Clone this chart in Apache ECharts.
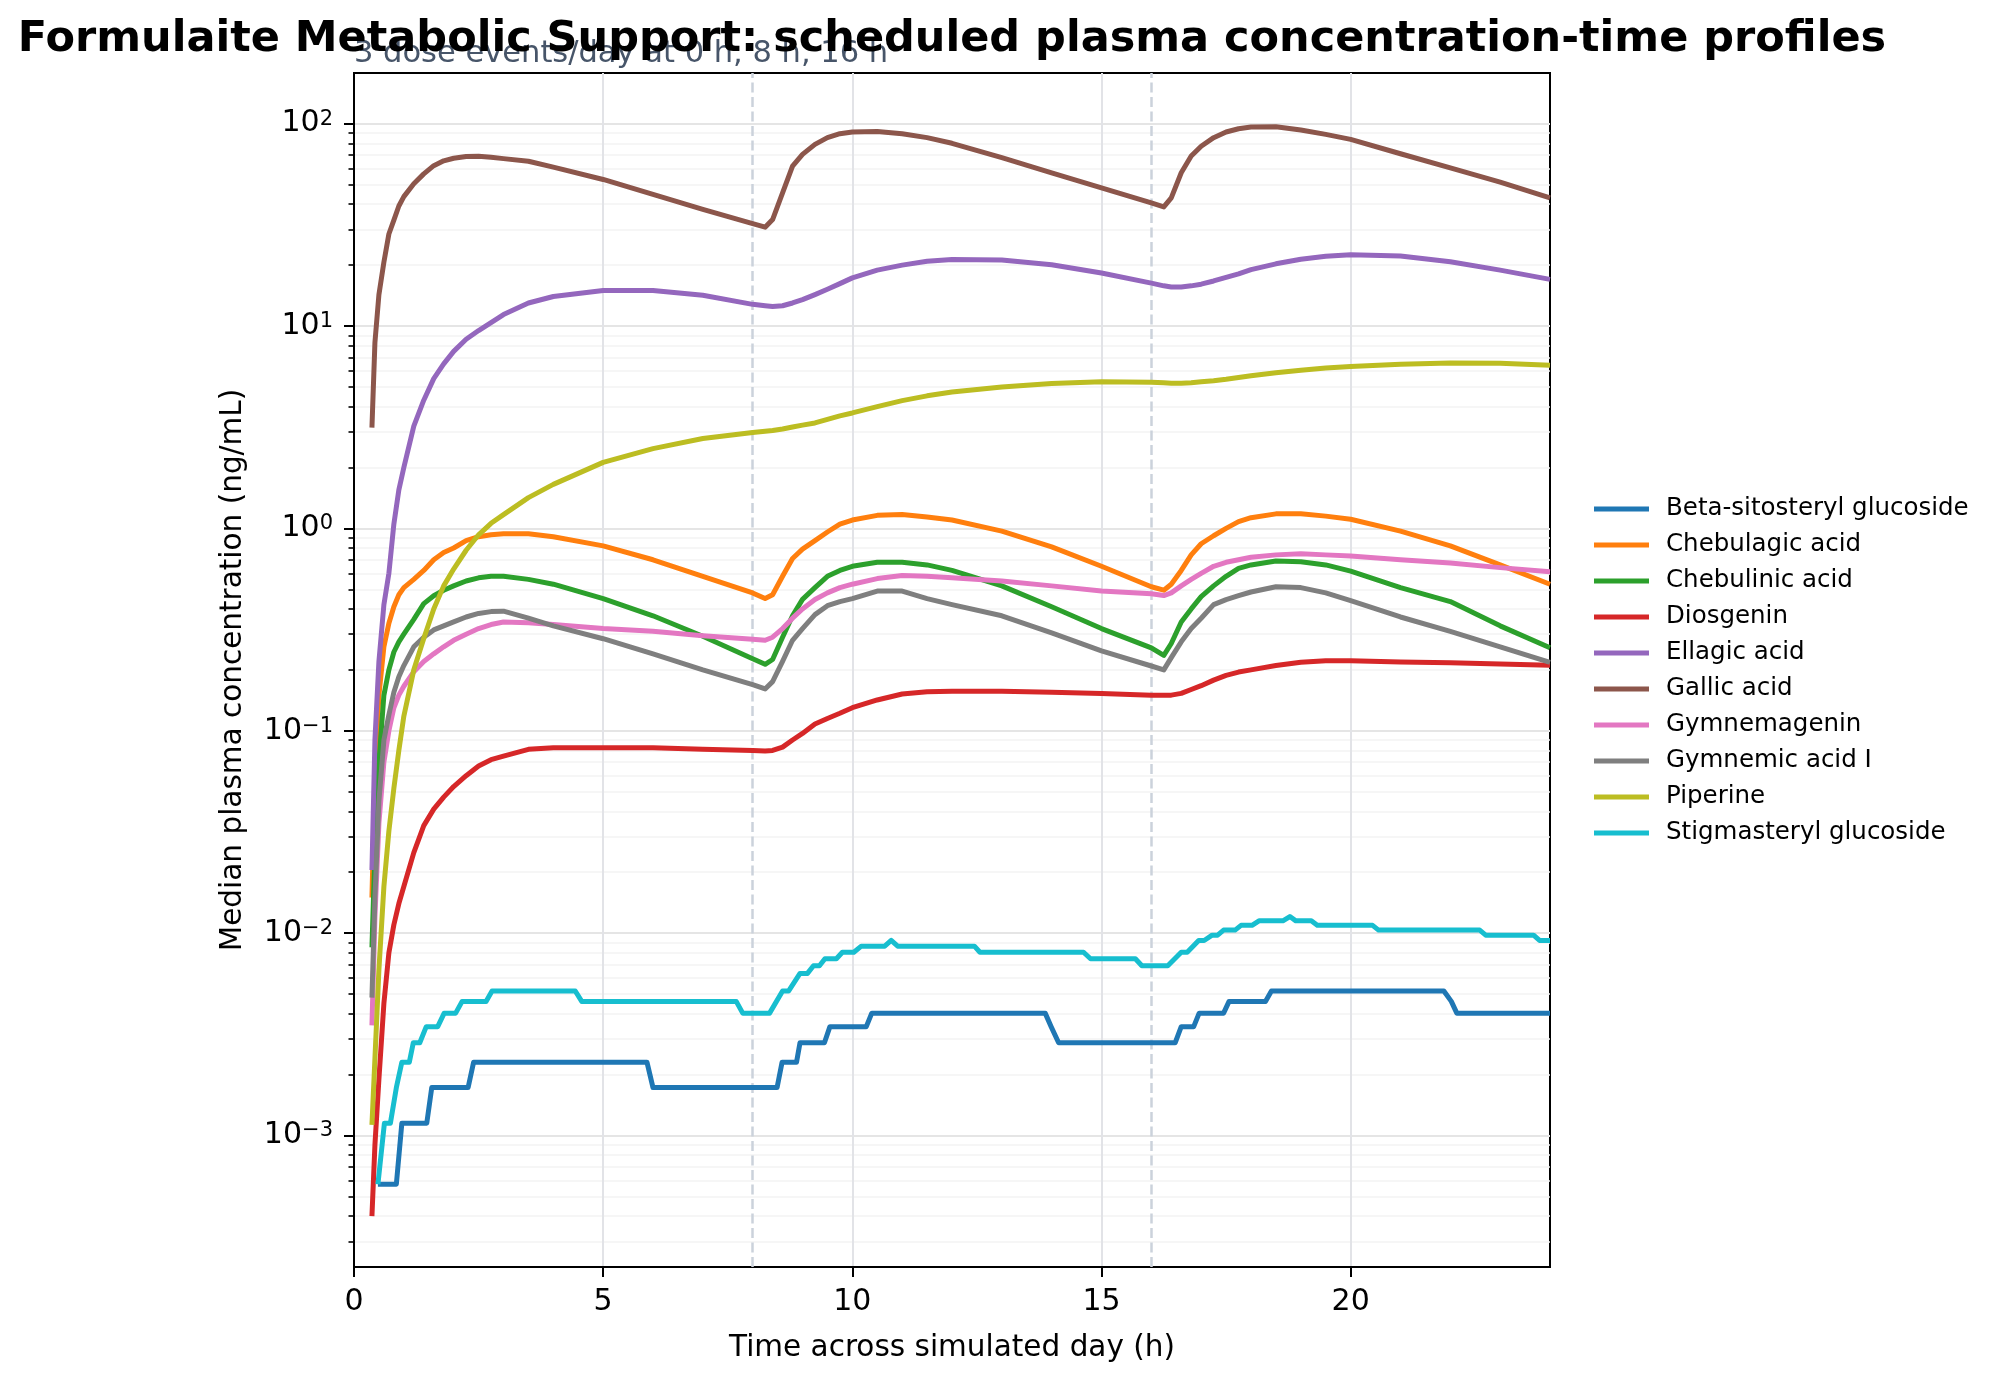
<!DOCTYPE html>
<html>
<head>
<meta charset="utf-8">
<title>Formulaite Metabolic Support</title>
<script src="https://cdn.jsdelivr.net/npm/echarts@6/dist/echarts.min.js"></script>
<style>
  html, body { margin: 0; padding: 0; background: #fff; }
  #chart { width: 1999px; height: 1382px; }
</style>
</head>
<body>
<div id="chart"></div>
<script>
const FONT = '"DejaVu Sans", sans-serif';

// shared sampling times (h) for the smooth profiles
const hours = [0.36, 0.42, 0.5, 0.6, 0.7, 0.8, 0.9, 1.0, 1.2, 1.4, 1.6, 1.8, 2.0, 2.25, 2.5, 2.75, 3.0, 3.5, 4.0, 5.0, 6.0, 7.0, 8.0, 8.25, 8.4, 8.6, 8.8, 9.0, 9.25, 9.5, 9.75, 10.0, 10.5, 11.0, 11.5, 12.0, 13.0, 14.0, 15.0, 16.0, 16.25, 16.4, 16.6, 16.8, 17.0, 17.25, 17.5, 17.75, 18.0, 18.5, 19.0, 19.5, 20.0, 21.0, 22.0, 23.0, 24.0];

const chebulagicAcid = [0.015, 0.06, 0.15, 0.26, 0.34, 0.41, 0.47, 0.51, 0.56, 0.62, 0.70, 0.76, 0.80, 0.87, 0.91, 0.93, 0.94, 0.94, 0.91, 0.82, 0.70, 0.58, 0.48, 0.45, 0.47, 0.58, 0.71, 0.79, 0.87, 0.96, 1.05, 1.10, 1.16, 1.17, 1.14, 1.10, 0.97, 0.81, 0.65, 0.515, 0.495, 0.53, 0.62, 0.74, 0.84, 0.92, 1.0, 1.08, 1.13, 1.18, 1.18, 1.15, 1.11, 0.97, 0.82, 0.66, 0.53];
const chebulinicAcid = [0.0085, 0.025, 0.07, 0.15, 0.2, 0.245, 0.275, 0.30, 0.355, 0.425, 0.465, 0.495, 0.52, 0.55, 0.57, 0.58, 0.58, 0.56, 0.53, 0.45, 0.37, 0.293, 0.227, 0.213, 0.225, 0.29, 0.37, 0.446, 0.51, 0.58, 0.62, 0.65, 0.68, 0.68, 0.66, 0.62, 0.52, 0.41, 0.32, 0.257, 0.236, 0.27, 0.345, 0.40, 0.46, 0.52, 0.58, 0.635, 0.66, 0.69, 0.685, 0.66, 0.615, 0.51, 0.435, 0.33, 0.257];
const diosgenin = [0.0004, 0.0009, 0.0019, 0.0045, 0.008, 0.011, 0.014, 0.017, 0.025, 0.034, 0.041, 0.047, 0.053, 0.06, 0.067, 0.072, 0.075, 0.081, 0.0824, 0.0824, 0.0824, 0.081, 0.080, 0.0795, 0.080, 0.083, 0.09, 0.097, 0.108, 0.115, 0.122, 0.13, 0.142, 0.152, 0.156, 0.157, 0.157, 0.155, 0.153, 0.150, 0.150, 0.150, 0.153, 0.160, 0.167, 0.178, 0.188, 0.195, 0.20, 0.21, 0.218, 0.222, 0.222, 0.219, 0.217, 0.214, 0.211];
const ellagicAcid = [0.0205, 0.09, 0.22, 0.42, 0.6, 1.05, 1.55, 2.0, 3.2, 4.3, 5.5, 6.5, 7.5, 8.6, 9.5, 10.4, 11.4, 13.0, 14.0, 15.0, 15.0, 14.2, 12.8, 12.6, 12.5, 12.6, 13.0, 13.5, 14.3, 15.2, 16.2, 17.3, 18.9, 20.0, 20.9, 21.3, 21.2, 20.1, 18.3, 16.3, 15.8, 15.6, 15.6, 15.8, 16.1, 16.7, 17.4, 18.1, 19.0, 20.3, 21.4, 22.1, 22.5, 22.2, 20.8, 18.9, 17.0];
const gallicAcid = [3.15, 8.3, 14.3, 20.7, 28.5, 33.4, 39.2, 43.6, 50.5, 56.5, 62, 65.5, 67.5, 68.8, 69, 68.3, 67.2, 65.2, 61, 53, 44.7, 37.7, 32.1, 30.8, 33.6, 45.5, 61.7, 70.5, 79, 85.3, 89.2, 91, 91.6, 89.2, 85.3, 80, 68, 57.2, 48.2, 40.6, 38.8, 43, 57.2, 69.2, 77.4, 85.3, 91, 94.4, 96.2, 96.6, 93.1, 88.5, 83.6, 71, 60.5, 51.4, 43];
const gymnemagenin = [0.0035, 0.012, 0.035, 0.07, 0.1, 0.13, 0.15, 0.166, 0.196, 0.22, 0.24, 0.26, 0.28, 0.30, 0.32, 0.335, 0.345, 0.342, 0.335, 0.32, 0.31, 0.295, 0.283, 0.28, 0.29, 0.32, 0.36, 0.40, 0.445, 0.48, 0.51, 0.53, 0.565, 0.585, 0.58, 0.57, 0.55, 0.52, 0.49, 0.475, 0.466, 0.48, 0.52, 0.56, 0.60, 0.65, 0.68, 0.70, 0.72, 0.74, 0.75, 0.74, 0.73, 0.70, 0.675, 0.64, 0.61];
const gymnemicAcidI = [0.0048, 0.015, 0.045, 0.09, 0.12, 0.155, 0.185, 0.21, 0.26, 0.29, 0.315, 0.33, 0.345, 0.365, 0.38, 0.388, 0.39, 0.36, 0.33, 0.285, 0.24, 0.20, 0.169, 0.161, 0.175, 0.22, 0.28, 0.32, 0.375, 0.415, 0.435, 0.45, 0.49, 0.49, 0.45, 0.42, 0.37, 0.305, 0.248, 0.209, 0.20, 0.23, 0.275, 0.32, 0.36, 0.42, 0.445, 0.465, 0.485, 0.515, 0.51, 0.48, 0.44, 0.365, 0.31, 0.26, 0.218];
const piperine = [0.00113, 0.0024, 0.0066, 0.017, 0.032, 0.052, 0.08, 0.118, 0.2, 0.286, 0.40, 0.52, 0.63, 0.78, 0.93, 1.06, 1.17, 1.42, 1.65, 2.12, 2.48, 2.78, 2.98, 3.02, 3.05, 3.1, 3.17, 3.24, 3.32, 3.46, 3.6, 3.72, 4.0, 4.28, 4.52, 4.72, 5.0, 5.2, 5.3, 5.28, 5.25, 5.22, 5.22, 5.25, 5.3, 5.37, 5.46, 5.57, 5.68, 5.88, 6.05, 6.2, 6.31, 6.48, 6.56, 6.55, 6.41];

// the two glucosides are quantised, so they keep their own break times
const betaSitosterylTimes = [0.48, 0.85, 0.96, 1.46, 1.56, 2.29, 2.40, 5.88, 6.00, 8.49, 8.59, 8.88, 8.95, 9.44, 9.55, 10.28, 10.39, 13.87, 13.99, 14.14, 16.48, 16.60, 16.85, 16.96, 17.45, 17.56, 18.29, 18.41, 21.87, 22.02, 22.13, 24.0];
const betaSitosteryl = [0.000575, 0.000575, 0.00115, 0.00115, 0.001725, 0.001725, 0.0023, 0.0023, 0.001725, 0.001725, 0.0023, 0.0023, 0.002875, 0.002875, 0.00345, 0.00345, 0.004025, 0.004025, 0.00345, 0.002875, 0.002875, 0.00345, 0.00345, 0.004025, 0.004025, 0.0046, 0.0046, 0.005175, 0.005175, 0.0046, 0.004025, 0.004025];
const stigmasterylTimes = [0.48, 0.61, 0.73, 0.85, 0.96, 1.11, 1.19, 1.32, 1.45, 1.68, 1.81, 2.04, 2.17, 2.65, 2.77, 4.44, 4.57, 7.67, 7.80, 8.34, 8.60, 8.72, 8.95, 9.10, 9.22, 9.34, 9.45, 9.68, 9.80, 10.03, 10.18, 10.65, 10.78, 10.91, 12.45, 12.56, 14.64, 14.78, 15.68, 15.81, 16.33, 16.60, 16.72, 16.95, 17.06, 17.22, 17.33, 17.45, 17.68, 17.80, 18.02, 18.16, 18.64, 18.78, 18.90, 19.21, 19.33, 20.44, 20.56, 22.59, 22.71, 23.67, 23.79, 24.0];
const stigmasteryl = [0.000575, 0.00115, 0.00115, 0.001725, 0.0023, 0.0023, 0.002875, 0.002875, 0.00345, 0.00345, 0.004025, 0.004025, 0.0046, 0.0046, 0.005175, 0.005175, 0.0046, 0.0046, 0.004025, 0.004025, 0.005175, 0.005175, 0.006325, 0.006325, 0.0069, 0.0069, 0.007475, 0.007475, 0.00805, 0.00805, 0.008625, 0.008625, 0.0092, 0.008625, 0.008625, 0.00805, 0.00805, 0.007475, 0.007475, 0.0069, 0.0069, 0.00805, 0.00805, 0.0092, 0.0092, 0.009775, 0.009775, 0.01035, 0.01035, 0.010925, 0.010925, 0.0115, 0.0115, 0.012075, 0.0115, 0.0115, 0.010925, 0.010925, 0.01035, 0.01035, 0.009775, 0.009775, 0.0092, 0.0092];

const doseTimes = [8, 16];
const xTicks = [0, 5, 10, 15, 20];
const yMajorTicks = [0.001, 0.01, 0.1, 1, 10, 100];
const yMin = 0.000224;
const yMax = 178;

const yMinorTicks = [];
for (let e = -4; e <= 2; e++) {
  for (let m = 2; m <= 9; m++) {
    const v = Number((m * Math.pow(10, e)).toPrecision(6));
    if (v > yMin && v < yMax) yMinorTicks.push(v);
  }
}

const compounds = [
  ["Beta-sitosteryl glucoside", "#1f77b4", betaSitosterylTimes, betaSitosteryl],
  ["Chebulagic acid", "#ff7f0e", hours, chebulagicAcid],
  ["Chebulinic acid", "#2ca02c", hours, chebulinicAcid],
  ["Diosgenin", "#d62728", hours, diosgenin],
  ["Ellagic acid", "#9467bd", hours, ellagicAcid],
  ["Gallic acid", "#8c564b", hours, gallicAcid],
  ["Gymnemagenin", "#e377c2", hours, gymnemagenin],
  ["Gymnemic acid I", "#7f7f7f", hours, gymnemicAcidI],
  ["Piperine", "#bcbd22", hours, piperine],
  ["Stigmasteryl glucoside", "#17becf", stigmasterylTimes, stigmasteryl],
];

function powerLabel(v) {
  const e = Math.round(Math.log10(v));
  if (Math.abs(Math.log10(v) - e) > 1e-6) return "";
  const exp = e < 0 ? "\u2212" + -e : String(e);
  return "{b|10}{s|" + exp + "}";
}

const series = compounds.map(([name, color, times, values], i) => ({
  name,
  type: "line",
  data: times.map((t, k) => [t, values[k]]),
  symbol: "none",
  showSymbol: false,
  lineStyle: { color, width: 5, join: "round" },
  itemStyle: { color },
  emphasis: { disabled: true },
  z: 3 + i,
}));

series[0].markLine = {
  silent: true,
  symbol: ["none", "none"],
  label: { show: false },
  lineStyle: { color: "#cbd2db", width: 2.5, type: [10, 4.5] },
  data: doseTimes.map((x) => ({ xAxis: x })),
  z: 1,
};

const chart = echarts.init(document.getElementById("chart"));
chart.setOption({
  animation: false,
  textStyle: { fontFamily: FONT },
  graphic: [
    {
      type: "text",
      x: 952,
      y: 40,
      style: {
        text: "Formulaite Metabolic Support: scheduled plasma concentration-time profiles",
        font: 'bold 43px "DejaVu Sans"',
        fill: "#000",
        align: "center",
        verticalAlign: "middle",
      },
      z: 10,
    },
    {
      type: "text",
      x: 354,
      y: 54,
      style: {
        text: "3 dose events/day at 0 h, 8 h, 16 h",
        font: '30.5px "DejaVu Sans"',
        fill: "#475569",
        align: "left",
        verticalAlign: "middle",
      },
      z: 9,
    },
  ],
  grid: {
    left: 354,
    top: 73,
    width: 1196,
    height: 1194,
    show: true,
    borderColor: "#000",
    borderWidth: 2,
    containLabel: false,
    outerBoundsMode: "none",
  },
  legend: {
    orient: "vertical",
    left: 1589,
    top: 491,
    itemWidth: 55,
    itemHeight: 5,
    itemGap: 10,
    icon: "rect",
    selectedMode: false,
    data: compounds.map((c) => c[0]),
    textStyle: {
      fontFamily: FONT,
      fontSize: 24.5,
      lineHeight: 26,
      color: "#000",
      padding: [0, 0, 0, 12],
    },
  },
  xAxis: {
    type: "value",
    min: 0,
    max: 24,
    interval: 5,
    name: "Time across simulated day (h)",
    nameLocation: "middle",
    nameGap: 66,
    nameTextStyle: { fontFamily: FONT, fontSize: 29.5, color: "#000" },
    axisLine: { show: true, onZero: false, lineStyle: { color: "#000", width: 2 } },
    axisTick: { show: true, customValues: xTicks, length: 10, lineStyle: { color: "#000", width: 2 } },
    axisLabel: { customValues: xTicks, margin: 20, fontFamily: FONT, fontSize: 30, color: "#000" },
    splitLine: { show: true, lineStyle: { color: "#e2e3e7", width: 2 } },
  },
  yAxis: [
    {
      type: "log",
      logBase: 10,
      min: yMin,
      max: yMax,
      position: "left",
      name: "Median plasma concentration (ng/mL)",
      nameLocation: "middle",
      nameRotate: 90,
      nameGap: 106,
      nameTextStyle: { fontFamily: FONT, fontSize: 29.5, color: "#000" },
      axisLine: { show: true, lineStyle: { color: "#000", width: 2 } },
      axisTick: { show: true, customValues: yMajorTicks, length: 10, lineStyle: { color: "#000", width: 2 } },
      axisLabel: {
        customValues: yMajorTicks,
        margin: 21,
        formatter: powerLabel,
        rich: {
          b: { fontFamily: FONT, fontSize: 30, color: "#000" },
          s: { fontFamily: FONT, fontSize: 21, color: "#000", verticalAlign: "top" },
        },
      },
      splitLine: { show: true, lineStyle: { color: "#e5e5e5", width: 2 } },
    },
    {
      type: "log",
      logBase: 10,
      min: yMin,
      max: yMax,
      position: "left",
      axisLine: { show: false },
      axisTick: { show: true, customValues: yMinorTicks, length: 5.5, lineStyle: { color: "#000", width: 1.6 } },
      axisLabel: { show: false },
      splitLine: { show: true, lineStyle: { color: "#f3f3f3", width: 1.5 } },
    },
  ],
  series,
});
</script>
</body>
</html>
